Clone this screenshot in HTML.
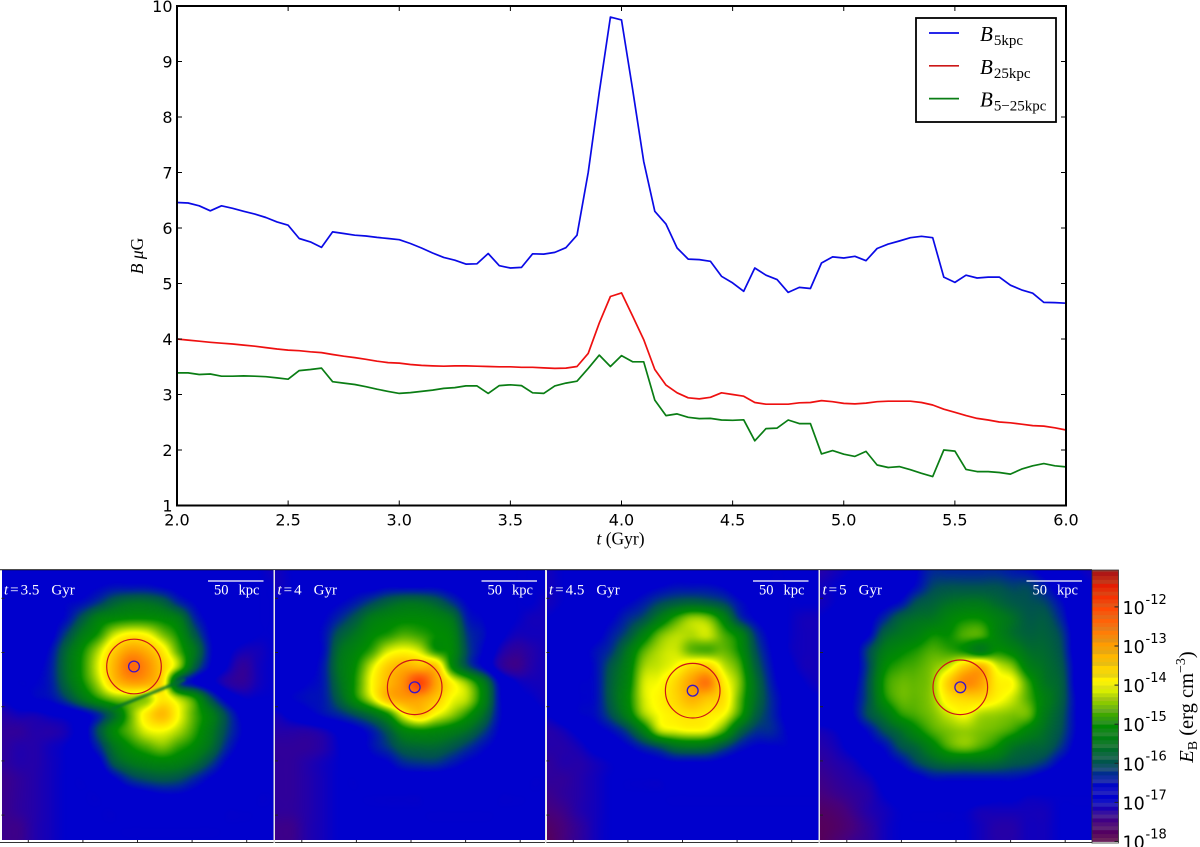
<!DOCTYPE html>
<html>
<head>
<meta charset="utf-8">
<title>Magnetic field evolution</title>
<style>
html,body{margin:0;padding:0;background:#fff;}
#stage{position:relative;width:1200px;height:847px;overflow:hidden;background:#fff;}
canvas{position:absolute;display:block;}
svg{position:absolute;left:0;top:0;}
text{font-family:"Liberation Serif","DejaVu Serif",serif;}
.tick{font-family:"DejaVu Sans","Liberation Sans",sans-serif;font-size:16px;fill:#000;}
.cb{font-family:"DejaVu Sans","Liberation Sans",sans-serif;fill:#000;}
</style>
</head>
<body>
<div id="stage">
<canvas id="p0" width="272" height="270" style="left:1.5px;top:570px"></canvas>
<canvas id="p1" width="271" height="270" style="left:275px;top:570px"></canvas>
<canvas id="p2" width="272" height="270" style="left:546.5px;top:570px"></canvas>
<canvas id="p3" width="272" height="270" style="left:820px;top:570px"></canvas>
<svg id="fig" width="1200" height="847" viewBox="0 0 1200 847" xmlns="http://www.w3.org/2000/svg">
<defs><filter id="soft" x="-20%" y="-100%" width="140%" height="300%"><feGaussianBlur stdDeviation="1.2"/></filter></defs>
</svg>
</div>
<script>
// ---- line chart data ----
const startTime = 2.0;
const timeStep = 0.05;
const b5kpc = [6.46,6.45,6.40,6.31,6.40,6.355,6.30,6.25,6.19,6.11,6.05,5.81,5.75,5.65,5.93,5.90,5.87,5.855,5.83,5.81,5.79,5.72,5.64,5.55,5.47,5.42,5.35,5.355,5.54,5.32,5.28,5.29,5.535,5.53,5.56,5.645,5.87,7.0,8.45,9.80,9.75,8.5,7.2,6.30,6.07,5.64,5.44,5.43,5.40,5.13,5.01,4.86,5.28,5.15,5.07,4.84,4.93,4.91,5.37,5.48,5.46,5.49,5.41,5.63,5.71,5.765,5.825,5.85,5.825,5.115,5.02,5.15,5.10,5.115,5.115,4.97,4.885,4.825,4.66,4.655,4.645];
const b25kpc = [4.0,3.98,3.96,3.94,3.925,3.91,3.89,3.87,3.845,3.82,3.80,3.79,3.77,3.755,3.72,3.69,3.665,3.635,3.60,3.575,3.565,3.54,3.525,3.515,3.51,3.515,3.515,3.51,3.505,3.50,3.50,3.49,3.49,3.48,3.47,3.475,3.505,3.74,4.29,4.765,4.83,4.415,3.99,3.45,3.17,3.03,2.94,2.92,2.95,3.03,3.0,2.97,2.855,2.825,2.825,2.825,2.85,2.855,2.89,2.87,2.84,2.83,2.845,2.87,2.88,2.88,2.88,2.855,2.81,2.735,2.68,2.62,2.57,2.54,2.505,2.49,2.465,2.44,2.43,2.40,2.36];
const b5to25kpc = [3.39,3.39,3.36,3.37,3.33,3.33,3.335,3.33,3.32,3.30,3.275,3.43,3.45,3.475,3.23,3.205,3.18,3.14,3.095,3.055,3.02,3.035,3.055,3.08,3.11,3.125,3.155,3.155,3.02,3.16,3.175,3.16,3.03,3.02,3.155,3.205,3.24,3.47,3.71,3.505,3.70,3.59,3.59,2.90,2.62,2.65,2.59,2.565,2.57,2.54,2.535,2.545,2.165,2.385,2.395,2.54,2.475,2.475,1.93,1.99,1.925,1.885,1.975,1.73,1.685,1.70,1.645,1.58,1.52,2.0,1.98,1.65,1.61,1.61,1.595,1.565,1.655,1.715,1.755,1.715,1.695];
const xTickValues = [2.0,2.5,3.0,3.5,4.0,4.5,5.0,5.5,6.0];
const xTickLabels = ["2.0","2.5","3.0","3.5","4.0","4.5","5.0","5.5","6.0"];
const yTickValues = [1,2,3,4,5,6,7,8,9,10];
const yTickLabels = ["1","2","3","4","5","6","7","8","9","10"];

// ---- colorbar data ----
const cbTickValues = [-12,-13,-14,-15,-16,-17,-18];
const cbTickExponents = ["-12","-13","-14","-15","-16","-17","-18"];

// ---- map panel data: log10(E)+18, in tenths of a decade ----
const panelTimes = ["3.5","4","4.5","5"];
const panel35 = [
[10,11,11,12,12,12,13,13,13,13,13,12,12,11,11,10,10,9],
[10,11,11,12,12,13,14,15,15,15,14,13,12,12,11,11,10,10],
[10,11,12,13,14,15,18,22,24,24,22,17,14,12,11,11,10,10],
[10,11,12,13,15,21,27,29,30,30,29,26,17,13,11,11,10,10],
[10,11,12,13,19,26,31,38,41,40,35,30,21,14,12,11,10,10],
[10,11,12,15,23,30,37,45,50,48,42,33,25,15,11,9,9,10],
[11,12,13,16,24,31,39,48,55,52,45,36,22,14,10,7,9,10],
[12,14,14,16,23,30,37,46,50,49,43,20,14,11,8,7,9,10],
[10,12,14,15,19,25,31,35,36,36,42,37,31,20,13,10,10,10],
[8,9,9,10,11,13,17,24,34,42,47,40,33,27,19,13,11,10],
[7,7,8,8,9,12,20,29,34,39,40,37,32,26,19,14,11,10],
[7,8,8,9,10,12,17,25,30,33,35,32,29,24,17,13,11,10],
[7,8,8,9,10,11,13,21,25,27,28,27,24,19,14,12,11,10],
[6,7,8,9,10,10,11,14,18,20,21,20,17,14,12,11,11,10],
[6,7,8,9,10,10,10,11,12,13,14,14,13,12,11,11,10,10],
[6,7,8,9,10,10,10,10,11,11,11,11,11,11,10,10,10,10],
[6,6,8,9,10,10,10,10,10,10,10,10,10,10,10,10,10,10],
[6,6,8,9,10,10,10,10,10,10,10,10,10,10,10,10,10,10]];
const panel40 = [
[9,10,11,11,12,12,12,12,12,12,12,12,12,11,11,10,10,10],
[9,10,11,12,12,13,13,14,14,14,14,13,12,12,11,10,10,10],
[10,11,12,13,14,16,19,22,24,24,22,18,14,13,11,10,10,9],
[11,12,13,14,17,21,26,28,29,29,28,25,16,14,11,10,9,9],
[11,12,13,15,21,25,29,31,33,32,30,28,18,15,11,9,9,9],
[10,12,13,15,24,28,32,38,40,38,31,29,19,14,9,7,8,9],
[11,13,13,16,25,30,38,45,48,47,46,30,20,14,8,6,8,9],
[12,13,14,16,24,31,40,47,52,60,50,41,35,26,14,10,9,9],
[12,14,15,16,22,30,38,47,50,50,46,40,37,28,15,11,10,9],
[9,11,13,15,17,20,24,30,40,45,40,36,31,24,15,12,11,10],
[8,8,8,9,11,13,16,21,28,30,29,27,24,19,14,12,11,10],
[7,7,7,8,10,12,15,18,22,23,23,21,18,15,13,11,11,10],
[7,7,8,9,10,11,13,14,17,18,18,16,14,13,12,11,11,10],
[7,7,8,9,10,10,11,12,12,12,12,12,12,11,11,11,10,10],
[7,7,8,9,10,10,10,10,10,10,11,11,11,11,10,10,10,10],
[7,7,8,9,10,10,10,10,10,10,10,10,10,10,10,10,10,10],
[6,6,8,9,10,10,10,10,10,10,10,10,10,10,10,10,10,10],
[6,6,8,9,10,10,10,10,10,10,10,10,10,10,10,10,10,10]];
const panel45 = [
[9,10,10,11,11,12,12,12,13,13,12,12,11,11,10,10,10,10],
[9,10,11,11,12,12,13,14,15,15,15,14,12,11,10,10,10,10],
[9,10,11,12,13,14,16,19,21,22,21,19,15,13,11,10,10,10],
[10,11,12,13,14,17,20,26,32,36,35,28,18,14,12,10,9,9],
[11,12,12,13,16,20,27,34,37,37,38,33,28,18,13,10,9,9],
[11,12,13,15,18,25,33,37,38,34,33,34,30,20,14,10,9,9],
[12,13,13,15,21,27,36,38,40,44,45,38,33,22,15,11,9,9],
[12,13,14,15,22,28,38,40,44,50,54,42,35,24,16,12,10,9],
[12,13,14,15,22,29,38,41,44,48,46,43,34,24,17,13,11,10],
[10,12,14,15,20,27,36,40,42,43,42,40,32,22,17,13,12,10],
[8,9,11,13,15,19,27,37,39,40,39,33,23,18,17,14,12,11],
[8,8,9,11,12,14,17,20,24,25,24,20,16,14,14,14,12,11],
[7,8,8,9,10,11,12,13,14,14,14,13,12,12,12,12,12,11],
[7,7,8,9,10,10,10,10,11,11,11,11,11,11,11,11,11,11],
[6,7,8,9,10,10,10,10,10,10,10,10,10,10,10,10,10,10],
[5,6,8,9,10,10,10,10,10,10,10,10,10,10,10,10,10,10],
[3,5,7,9,10,10,10,10,10,10,10,10,10,10,10,10,10,10],
[2,5,7,9,10,10,10,10,10,10,10,10,10,10,10,10,10,10]];
const panel50 = [
[8,9,10,11,11,11,14,17,17,17,17,17,16,15,13,11,10,9],
[9,10,11,12,12,12,15,19,20,20,20,20,19,19,16,12,11,10],
[9,10,11,12,13,15,20,22,24,25,25,23,21,20,19,15,11,10],
[10,11,12,13,17,22,24,25,28,30,30,27,24,21,21,17,11,10],
[10,11,12,14,22,25,27,30,30,33,33,28,24,22,22,19,12,10],
[10,11,12,19,26,29,31,33,32,30,26,30,28,24,23,20,12,10],
[10,11,12,19,29,32,33,35,38,45,48,39,35,27,24,21,13,10],
[11,12,13,20,31,34,34,36,45,52,50,42,40,32,25,22,13,10],
[12,13,14,20,30,34,34,36,42,44,44,41,38,33,27,22,14,11],
[12,13,14,20,25,31,33,35,38,40,37,36,35,34,26,21,14,11],
[9,10,12,15,20,24,29,33,35,36,35,34,32,28,24,20,14,11],
[8,9,11,13,15,20,23,28,33,35,33,30,25,23,22,18,13,11],
[7,8,9,11,13,15,19,22,24,24,24,23,21,20,18,14,12,11],
[6,7,8,9,11,12,13,15,15,15,15,15,15,14,12,11,11,11],
[5,6,7,8,10,11,11,11,12,12,12,11,11,10,10,10,10,10],
[3,4,6,8,9,10,10,10,10,10,9,9,9,9,9,10,10,10],
[2,3,5,7,9,10,10,10,10,10,9,8,8,9,9,10,10,10],
[2,4,6,7,9,10,10,10,10,10,9,8,8,9,9,10,10,10]];
const panelGrids = [panel35,panel40,panel45,panel50];

// ---- geometry and styling ----
const plot = {left:177,right:1066,top:6,bottom:505.5,xMin:2,xMax:6,yMin:1,yMax:10};
function xScale(t){return plot.left+(t-plot.xMin)/(plot.xMax-plot.xMin)*(plot.right-plot.left);}
function yScale(b){return plot.bottom-(b-plot.yMin)/(plot.yMax-plot.yMin)*(plot.bottom-plot.top);}
const cb = {left:1092,right:1118.5,top:570,bottom:843};
function cbScale(logE){return 841.5-(logE+18)*39.1;}
const cmapV = [0,0.5,0.8,1,1.4,1.7,2,2.5,3,3.5,4,4.5,5,5.5,6,6.5,7];
const cmapC = [[95,0,70],[70,0,125],[35,0,170],[0,0,205],[0,0,205],[0,38,155],[0,82,80],[0,118,28],[0,140,0],[125,195,0],[255,255,0],[255,205,0],[255,160,0],[255,110,10],[255,70,5],[235,30,0],[150,20,30]];
function cmap(v){
  if(v<=cmapV[0])return cmapC[0];
  for(let i=1;i<cmapV.length;i++){
    if(v<=cmapV[i]){
      const f=(v-cmapV[i-1])/(cmapV[i]-cmapV[i-1]);
      const a=cmapC[i-1],b=cmapC[i];
      return [a[0]+(b[0]-a[0])*f,a[1]+(b[1]-a[1])*f,a[2]+(b[2]-a[2])*f];
    }
  }
  return cmapC[cmapC.length-1];
}
function cubic(p0,p1,p2,p3,t){
  return 0.5*((2*p1)+(-p0+p2)*t+(2*p0-5*p1+4*p2-p3)*t*t+(-p0+3*p1-3*p2+p3)*t*t*t);
}
function sample(g,c,r){
  const n=g.length-1,m=g[0].length-1;
  const ci=Math.min(Math.floor(c),m-1),ri=Math.min(Math.floor(r),n-1);
  const tc=c-ci,tr=r-ri,col=[];
  for(let j=-1;j<=2;j++){
    const row=g[Math.max(0,Math.min(n,ri+j))];
    col.push(cubic(row[Math.max(0,ci-1)],row[ci],row[Math.min(m,ci+1)],row[Math.min(m,ci+2)],tc));
  }
  return cubic(col[0],col[1],col[2],col[3],tr);
}
panelGrids.forEach(function(grid,k){
  const cv=document.getElementById('p'+k);
  const ctx=cv.getContext('2d');
  const im=ctx.createImageData(cv.width,cv.height);
  for(let y=0;y<cv.height;y++){
    for(let x=0;x<cv.width;x++){
      const v=sample(grid,Math.min(17,x/16),Math.min(17,y/16))/10;
      const c=cmap(v),o=(y*cv.width+x)*4;
      im.data[o]=c[0];im.data[o+1]=c[1];im.data[o+2]=c[2];im.data[o+3]=255;
    }
  }
  ctx.putImageData(im,0,0);
});

const NS='http://www.w3.org/2000/svg';
const fig=document.getElementById('fig');
function mk(tag,attrs,parent){
  const el=document.createElementNS(NS,tag);
  for(const k in attrs){el.setAttribute(k,attrs[k]);}
  (parent||fig).appendChild(el);
  return el;
}
function addSpan(parent,txt,attrs){
  const s=mk('tspan',attrs||{},parent);
  s.textContent=txt;
  return s;
}

// ---- series ----
const seriesList=[[b5kpc,'#0a0ae6','series-b-5kpc'],[b25kpc,'#ee1010','series-b-25kpc'],[b5to25kpc,'#0a7d14','series-b-5-25kpc']];
seriesList.forEach(function(s){
  const pts=s[0].map(function(b,i){return xScale(startTime+i*timeStep).toFixed(1)+','+yScale(b).toFixed(1);}).join(' ');
  const line=mk('polyline',{points:pts,fill:'none',stroke:s[1],'stroke-width':1.7,'stroke-linejoin':'round'});
  
  
});

// ---- axes frame ----
const frame=mk('rect',{x:plot.left,y:plot.top,width:plot.right-plot.left,height:plot.bottom-plot.top,fill:'none',stroke:'#000','stroke-width':2});



xTickValues.forEach(function(t,i){
  const x=xScale(t);
  const a=mk('line',{x1:x,x2:x,y1:plot.bottom,y2:plot.bottom-5,stroke:'#000','stroke-width':1});
  
  
  const b=mk('line',{x1:x,x2:x,y1:plot.top,y2:plot.top+5,stroke:'#000','stroke-width':1});
  
  
  const l=mk('text',{x:x,y:525.5,'text-anchor':'middle','class':'tick'});
  l.textContent=xTickLabels[i];
  
  
});
yTickValues.forEach(function(v,i){
  const y=yScale(v);
  const a=mk('line',{x1:plot.left,x2:plot.left+5,y1:y,y2:y,stroke:'#000','stroke-width':1});
  
  
  const b=mk('line',{x1:plot.right,x2:plot.right-5,y1:y,y2:y,stroke:'#000','stroke-width':1});
  
  
  const l=mk('text',{x:172.5,y:y+6,'text-anchor':'end','class':'tick'});
  l.textContent=yTickLabels[i];
  
  
});

// ---- axis titles ----
const xTitle=mk('text',{x:620.5,y:544.5,'text-anchor':'middle','font-size':17.5,fill:'#000'});
addSpan(xTitle,'t',{'font-style':'italic'});
addSpan(xTitle,' (Gyr)');


const yTitle=mk('text',{transform:'translate(143,256) rotate(-90)','text-anchor':'middle','font-size':17.5,fill:'#000'});
addSpan(yTitle,'B',{'font-style':'italic'});
addSpan(yTitle,' \u03BC',{'font-style':'italic'});
addSpan(yTitle,'G');



// ---- legend ----
const legendBox=mk('rect',{x:916,y:18,width:140,height:104,fill:'#fff',stroke:'#000','stroke-width':1.8});


const legendNames=['5kpc','25kpc','5\u221225kpc'];
const legendColors=['#0a0ae6','#cc1818','#0a7d14'];
legendNames.forEach(function(n,i){
  const y=33+i*32.8;
  const ln=mk('line',{x1:929,x2:959,y1:y,y2:y,stroke:legendColors[i],'stroke-width':1.7});
  
  
  const t=mk('text',{x:980,y:y+8,'font-size':21,fill:'#000'});
  addSpan(t,'B',{'font-style':'italic'});
  addSpan(t,n,{'font-size':15,dy:4,dx:1});
  
  
});

// ---- panel overlays ----
const panelLeft=[1.5,275,546.5,820];
const panelRed=[[134,666.5],[414.7,687.3],[692.7,690.7],[960.3,687.3]];
const bottomAxis=mk('line',{x1:0,x2:1092,y1:842.5,y2:842.5,stroke:'#333','stroke-width':1});


const topAxis=mk('line',{x1:0,x2:1092,y1:569.7,y2:569.7,stroke:'#111','stroke-width':1});


const blobBoundary=mk('line',{x1:112,y1:709,x2:184,y2:680,stroke:'#00702a','stroke-width':2.6,'stroke-linecap':'round',filter:'url(#soft)'});


panelLeft.forEach(function(px,k){
  const outer=mk('circle',{cx:panelRed[k][0],cy:panelRed[k][1],r:27.3,fill:'none',stroke:'#cc1418','stroke-width':1.2});
  
  
  const inner=mk('circle',{cx:panelRed[k][0],cy:panelRed[k][1],r:5.4,fill:'none',stroke:'#3a14c8','stroke-width':1.3});
  
  
  const tl=mk('text',{x:px+2.5,y:594.5,'font-size':15,fill:'#fff'});
  addSpan(tl,'t',{'font-style':'italic'});
  addSpan(tl,'=',{dx:2});
  addSpan(tl,panelTimes[k],{dx:2});
  addSpan(tl,'Gyr',{dx:12});
  
  
  const bar=mk('line',{x1:px+206.5,x2:px+262,y1:581,y2:581,stroke:'#fff','stroke-width':1.3});
  
  
  const sl=mk('text',{x:px+212.5,y:594.5,'font-size':14.5,fill:'#fff'});
  addSpan(sl,'50');
  addSpan(sl,'kpc',{dx:10});
  
  
  for(let i=0;i<5;i++){
    const x=px+26.8+i*54.6;
    const t=mk('line',{x1:x,x2:x,y1:840,y2:843,stroke:'#222','stroke-width':1});
    
    
    const y=598.3+i*54.2;
    const u=mk('line',{x1:px,x2:px+3,y1:y,y2:y,stroke:'#222','stroke-width':1});
    
    
  }
  if(k>0){
    const sep=mk('line',{x1:px-0.8,x2:px-0.8,y1:570,y2:843,stroke:'#e4e4e4','stroke-width':1.4});
    
    
  }
});

// ---- colorbar ----
const bandStep=0.1;
for(let i=0;i<71;i++){
  const v=i*bandStep;
  const y1=cbScale(v-18+bandStep),y2=cbScale(v-18);
  const c=cmap(v+0.05);
  const mix=(i%3===0)?0.22:((i%3===1)?0.1:0);
  const col=[0,1,2].map(function(j){return Math.round(c[j]+(150-c[j])*mix*(j===2&&v>3.5?0.5:1));});
  const top=Math.max(cb.top,y1);
  const r=mk('rect',{x:cb.left,y:top,width:cb.right-cb.left,height:Math.max(0,y2-top+0.4),fill:'rgb('+col.join(',')+')'});
  
  
}
const cbFrame=mk('rect',{x:cb.left,y:cb.top,width:cb.right-cb.left,height:cb.bottom-cb.top,fill:'none',stroke:'#333','stroke-width':0.8});


cbTickValues.forEach(function(v,i){
  const y=cbScale(v);
  const t=mk('line',{x1:cb.right-4,x2:cb.right,y1:y,y2:y,stroke:'#222','stroke-width':1});
  
  
  const b=mk('text',{x:1122.5,y:y+7,'class':'cb','font-size':17.5});
  b.textContent='10';
  
  
  const e=mk('text',{x:1145.5,y:y-3,'class':'cb','font-size':13});
  e.textContent=cbTickExponents[i];
  
  
});
const cbTitle=mk('text',{transform:'translate(1193,707) rotate(-90)','text-anchor':'middle','font-size':20.5,fill:'#000'});
addSpan(cbTitle,'E',{'font-style':'italic'});
addSpan(cbTitle,'B',{'font-size':14,dy:4});
addSpan(cbTitle,'\u00A0(erg\u00A0cm',{dy:-4});
addSpan(cbTitle,'\u22123',{'font-size':14,dy:-8});
addSpan(cbTitle,')',{dy:8});


</script>
</body>
</html>
